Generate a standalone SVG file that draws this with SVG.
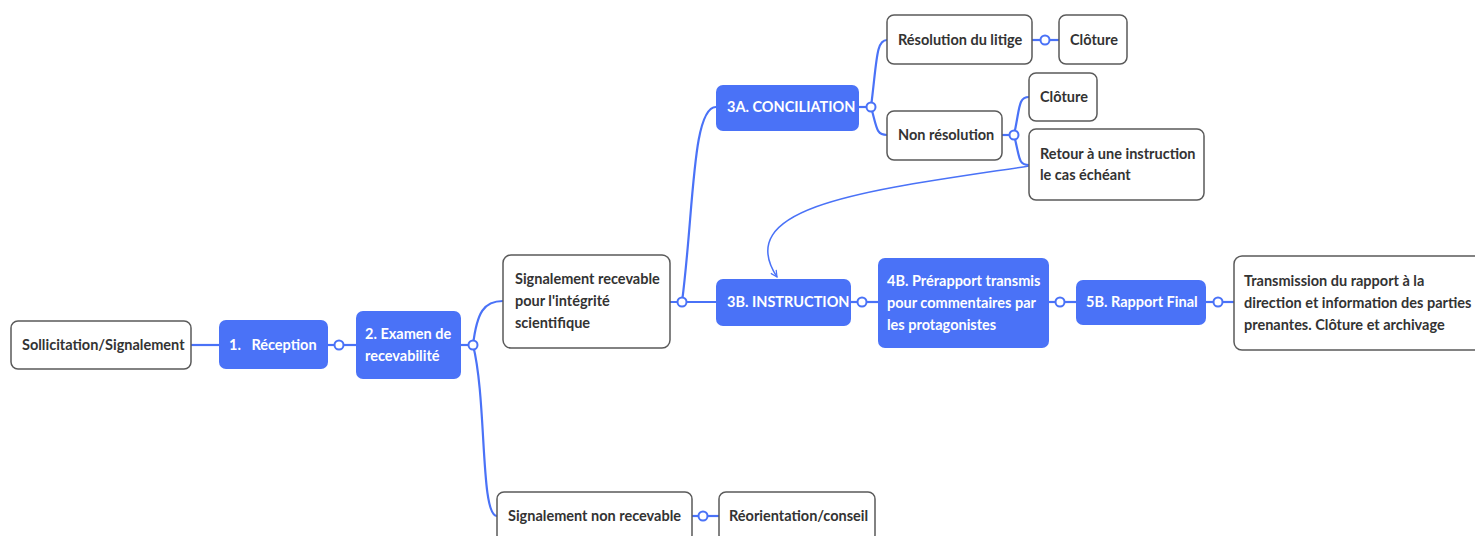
<svg xmlns="http://www.w3.org/2000/svg" width="1475" height="536" viewBox="0 0 1475 536">
<defs>
<style>
.w{fill:#fff;stroke:#5a5a5a;stroke-width:1.5}
.b{fill:#4a72f7;stroke:none}
.t{font-family:Lato,"Liberation Sans",sans-serif;font-weight:700;font-size:14.5px;fill:#333}
.tw{font-family:Lato,"Liberation Sans",sans-serif;font-weight:700;font-size:14.5px;fill:#fff}
.c{fill:none;stroke:#4a72f7;stroke-width:2.2}
.k{fill:#fff;stroke:#4a72f7;stroke-width:2}
</style>
<marker id="arr" viewBox="0 0 10 10" refX="9" refY="5" markerWidth="8" markerHeight="8" orient="auto" markerUnits="userSpaceOnUse">
<path d="M1,1 L9,5 L1,9" fill="none" stroke="#4a72f7" stroke-width="1.5"/>
</marker>
</defs>
<rect width="1475" height="536" fill="#fff"/>
<g id="connectors">
<path class="c" d="M191,345 H219"/>
<path class="c" d="M328,345 H356"/>
<path class="c" d="M461,345 H473"/>
<path class="c" d="M473,345 C477,312 484,301 503,301"/>
<path class="c" d="M473,345 C487,400 480,516 497,516"/>
<path class="c" d="M670,302 H716"/>
<path class="c" d="M682,302 C694,210 692,107 716,107"/>
<path class="c" d="M859,107 H871"/>
<path class="c" d="M871,107 C877,60 876,40 887,40"/>
<path class="c" d="M871,107 C877,128 876,135 887,135"/>
<path class="c" d="M1032,40 H1059"/>
<path class="c" d="M1002,135 H1014"/>
<path class="c" d="M1014,135 C1020,108 1018,97 1029,97"/>
<path class="c" d="M1014,135 C1020,158 1018,165 1029,165"/>
<path class="c" d="M851,302 H878"/>
<path class="c" d="M1049,302 H1076"/>
<path class="c" d="M1206,302 H1234"/>
<path class="c" d="M692,516 H719"/>
<path fill="none" stroke="#4a72f7" stroke-width="1.5" d="M1029,166 C870,190 730,205 777,277" marker-end="url(#arr)"/>
<circle class="k" cx="339" cy="345" r="4.5"/>
<circle class="k" cx="473" cy="345" r="4.5"/>
<circle class="k" cx="682" cy="302" r="4.5"/>
<circle class="k" cx="871" cy="107" r="4.5"/>
<circle class="k" cx="1045" cy="40" r="4.5"/>
<circle class="k" cx="1014" cy="135" r="4.5"/>
<circle class="k" cx="862" cy="302" r="4.5"/>
<circle class="k" cx="1060" cy="302" r="4.5"/>
<circle class="k" cx="1218" cy="302" r="4.5"/>
<circle class="k" cx="703" cy="516" r="4.5"/>
</g>
<g id="n-sollicitation"><rect class="w" x="11" y="321" width="180" height="48" rx="7"/><text class="t" x="22" y="350">Sollicitation/Signalement</text></g>
<g id="n-reception"><rect class="b" x="219" y="320" width="109" height="49" rx="7"/><text class="tw" x="229" y="350" xml:space="preserve">1.   Réception</text></g>
<g id="n-examen"><rect class="b" x="356" y="311" width="105" height="68" rx="7"/><text class="tw" x="365" y="339">2. Examen de</text><text class="tw" x="365" y="361">recevabilité</text></g>
<g id="n-recevable"><rect class="w" x="503" y="255" width="167" height="93" rx="8"/><text class="t" x="515" y="284">Signalement recevable</text><text class="t" x="515" y="306">pour l'intégrité</text><text class="t" x="515" y="328">scientifique</text></g>
<g id="n-3a"><rect class="b" x="716" y="85" width="143" height="46" rx="7"/><text class="tw" x="727" y="112">3A. CONCILIATION</text></g>
<g id="n-resolution"><rect class="w" x="887" y="15" width="145" height="49" rx="7"/><text class="t" x="898" y="45">Résolution du litige</text></g>
<g id="n-cloture1"><rect class="w" x="1059" y="15" width="68" height="49" rx="7"/><text class="t" x="1070" y="45">Clôture</text></g>
<g id="n-nonresolution"><rect class="w" x="887" y="111" width="115" height="49" rx="7"/><text class="t" x="898" y="140">Non résolution</text></g>
<g id="n-cloture2"><rect class="w" x="1029" y="73" width="68" height="48" rx="7"/><text class="t" x="1040" y="102">Clôture</text></g>
<g id="n-retour"><rect class="w" x="1029" y="129" width="175" height="71" rx="7"/><text class="t" x="1040" y="159">Retour à une instruction</text><text class="t" x="1040" y="180">le cas échéant</text></g>
<g id="n-3b"><rect class="b" x="716" y="279" width="135" height="47" rx="7"/><text class="tw" x="727" y="307">3B. INSTRUCTION</text></g>
<g id="n-4b"><rect class="b" x="878" y="258" width="171" height="90" rx="7"/><text class="tw" x="887" y="286">4B. Prérapport transmis</text><text class="tw" x="887" y="308">pour commentaires par</text><text class="tw" x="887" y="330">les protagonistes</text></g>
<g id="n-5b"><rect class="b" x="1076" y="280" width="130" height="45" rx="7"/><text class="tw" x="1086" y="307">5B. Rapport Final</text></g>
<g id="n-transmission"><rect class="w" x="1234" y="256" width="250" height="94" rx="8"/><text class="t" x="1244" y="286">Transmission du rapport à la</text><text class="t" x="1244" y="308">direction et information des parties</text><text class="t" x="1244" y="330">prenantes. Clôture et archivage</text></g>
<g id="n-nonrecevable"><rect class="w" x="497" y="492" width="195" height="50" rx="7"/><text class="t" x="508" y="521">Signalement non recevable</text></g>
<g id="n-reorientation"><rect class="w" x="719" y="492" width="156" height="50" rx="7"/><text class="t" x="729" y="521">Réorientation/conseil</text></g>
</svg>
